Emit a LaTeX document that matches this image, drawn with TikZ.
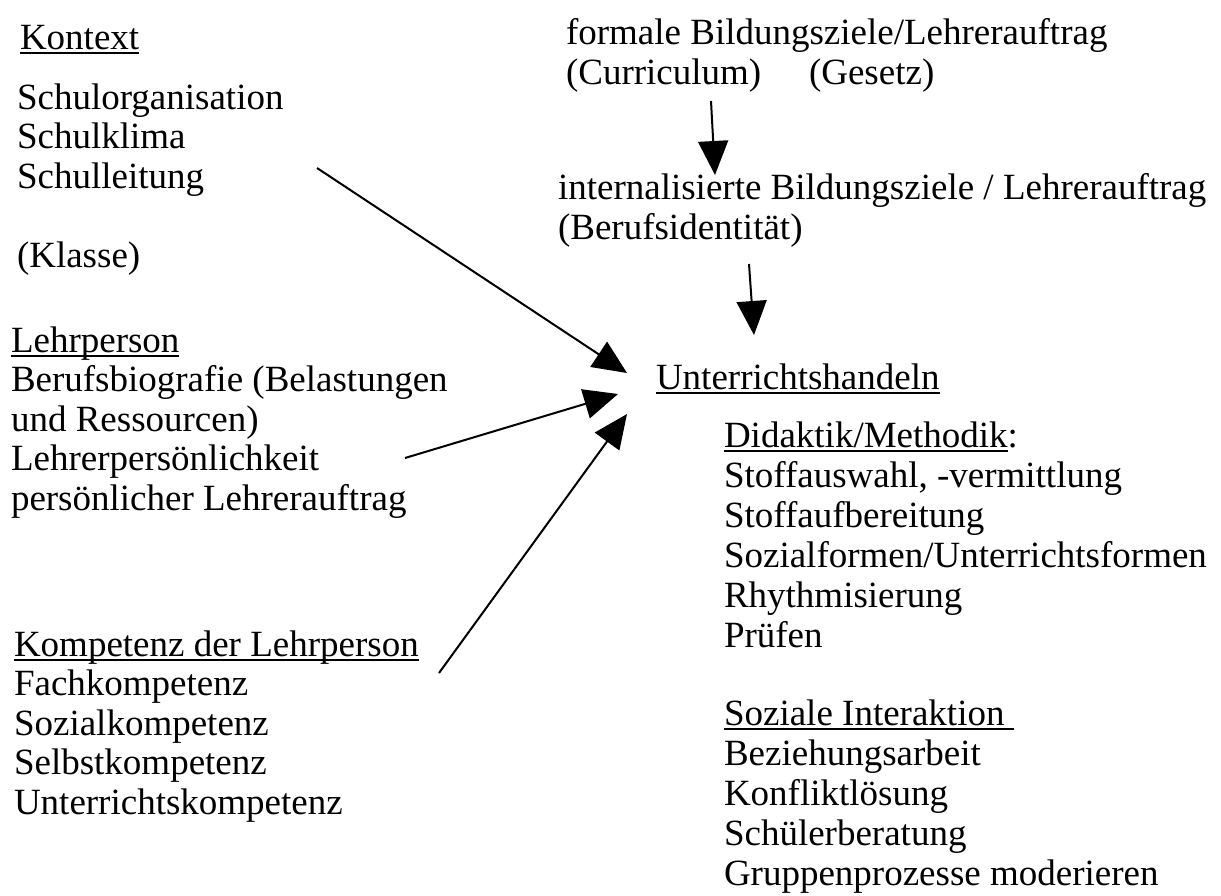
\documentclass[tikz,border=0pt]{standalone}
\usepackage{fontspec}
\setmainfont{Liberation Serif}
\usetikzlibrary{arrows.meta}

% underline at a fixed depth, like a word processor does
\newcommand{\uln}[1]{\setbox0\hbox{#1}\rlap{\rule[-5pt]{\wd0}{1.6pt}}\box0}

\begin{document}
\begin{tikzpicture}[x=1pt, y=-1pt, ->, >={Triangle[length=34pt, width=30pt]}, line width=2pt]

% nodes sit on the baseline of their last line
\tikzstyle{every node}=[inner sep=0pt, anchor=base west, align=left, font=\fontsize{37}{39.5}\selectfont]
\tikzstyle{wide}=[font=\fontsize{37}{40}\selectfont]
\useasboundingbox (0,0) rectangle (1221,895);

% left column
\node (kontext) at (19,49) {\uln{Kontext}};
\node (schule) at (16,267) {Schulorganisation\\Schulklima\\Schulleitung\\[39.5pt](Klasse)};
\node (lehrperson) at (10,510) {\uln{Lehrperson}\\Berufsbiografie (Belastungen\\und Ressourcen)\\Lehrerpersönlichkeit\\persönlicher Lehrerauftrag};
\node (kompetenz) at (13,814) {\uln{Kompetenz der Lehrperson}\\Fachkompetenz\\Sozialkompetenz\\Selbstkompetenz\\Unterrichtskompetenz};

% top
\node (formal) at (565,84) {formale Bildungsziele/Lehrerauftrag\\(Curriculum)};
\node (gesetz) at (808,84) {(Gesetz)};
\node (intern) at (557,239) {internalisierte Bildungsziele / Lehrerauftrag\\(Berufsidentität)};

% right column
\node (handeln) at (655,389) {\uln{Unterrichtshandeln}};
\node[wide] (didaktik) at (723,647) {\uln{Didaktik/Methodik}:\\Stoffauswahl, -vermittlung\\Stoffaufbereitung\\Sozialformen/Unterrichtsformen\\Rhythmisierung\\Prüfen};
\node[wide] (sozial) at (723,885) {\uln{Soziale Interaktion\ }\\Beziehungsarbeit\\Konfliktlösung\\Schülerberatung\\Gruppenprozesse moderieren};

\coordinate (formal-out) at (711,101);
\coordinate (intern-in) at (715,175);
\coordinate (intern-out) at (749,264);
\coordinate (handeln-top) at (754,335);
\coordinate (schule-out) at (317,168);
\coordinate (lehrperson-out) at (405,458);
\coordinate (kompetenz-out) at (439,673);
\coordinate (handeln-in1) at (627,373);
\coordinate (handeln-in2) at (618,394);
\coordinate (handeln-in3) at (627,414);

\draw (formal-out) -- (intern-in);
\draw (intern-out) -- (handeln-top);
\draw (schule-out) -- (handeln-in1);
\draw (lehrperson-out) -- (handeln-in2);
\draw (kompetenz-out) -- (handeln-in3);

\end{tikzpicture}
\end{document}
